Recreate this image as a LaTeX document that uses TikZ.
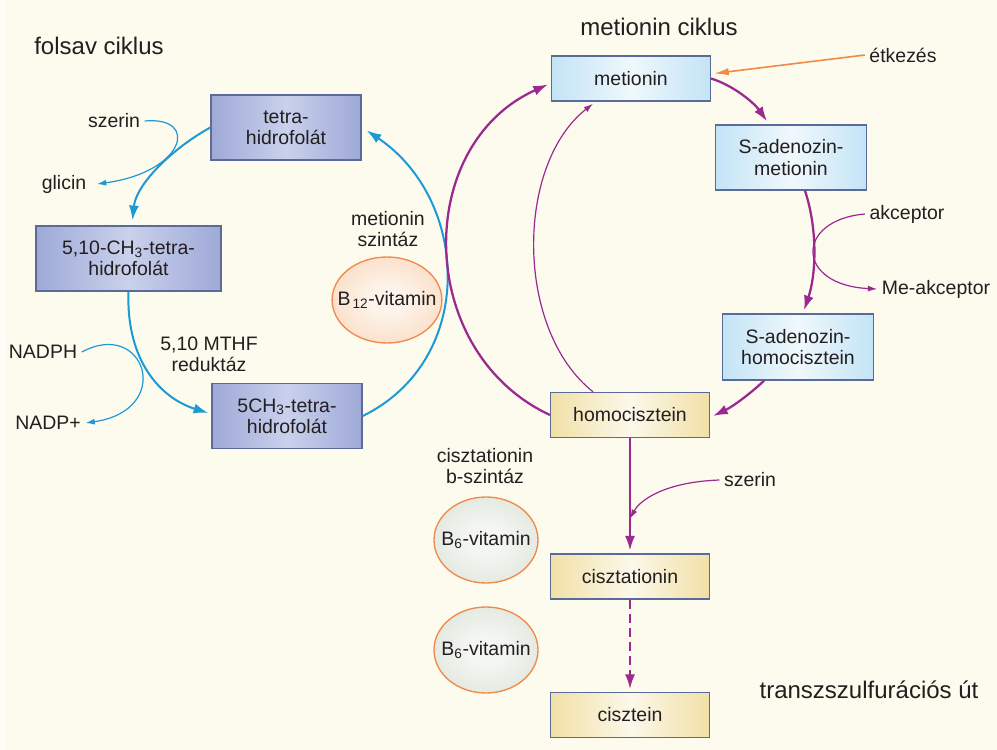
\documentclass[tikz,border=0pt]{standalone}
\usepackage{fontspec}
\setmainfont{Liberation Sans}
\usetikzlibrary{arrows.meta,shapes.geometric,calc}

\definecolor{bg}{HTML}{FDFAEE}
\definecolor{ink}{HTML}{231F20}
\definecolor{frame}{HTML}{5B6B99}
\definecolor{folblue}{HTML}{1C9AD6}
\definecolor{metpurple}{HTML}{9A2A8F}
\definecolor{foodorange}{HTML}{F08A45}
\definecolor{vitrim}{HTML}{F08A4A}
\definecolor{folA}{HTML}{9EA9D7}
\definecolor{folB}{HTML}{CAD1EC}
\definecolor{metA}{HTML}{C3E4F6}
\definecolor{metB}{HTML}{F0F8FC}
\definecolor{cysA}{HTML}{F1E0A6}
\definecolor{cysB}{HTML}{FCF8EA}
\definecolor{btwelveA}{HTML}{FDF3EA}
\definecolor{btwelveB}{HTML}{F7C8A0}
\definecolor{bsixA}{HTML}{F4F6F2}
\definecolor{bsixB}{HTML}{CDD9CA}

% soft radial fills for the vitamin ellipses (rim reached at 50bp)
\pgfdeclareradialshading{btwelveshade}{\pgfpointorigin}{%
  color(0bp)=(btwelveA); color(8bp)=(btwelveA); color(50bp)=(btwelveB)}
\pgfdeclareradialshading{bsixshade}{\pgfpointorigin}{%
  color(0bp)=(bsixA); color(8bp)=(bsixA); color(50bp)=(bsixB)}

\tikzset{
  every node/.style={text=ink, font=\fontsize{14.6}{16}\selectfont},
  header/.style={font=\fontsize{18}{21.6}\selectfont},
  box/.style={draw=frame, line width=1.1pt, align=center, inner sep=0pt},
  folbox/.style={box, left color=folA, right color=folA, middle color=folB,
    minimum height=48.75pt},
  metbox/.style={box, left color=metA, right color=metA, middle color=metB},
  cysbox/.style={box, left color=cysA, right color=cysA, middle color=cysB,
    minimum width=119pt, minimum height=33.75pt},
  vit/.style={ellipse, draw=vitrim, line width=1pt, inner xsep=-8pt, inner ysep=0pt,
    minimum width=78pt, minimum height=64.5pt},
  bigtip/.style={-{Latex[length=11pt,width=7.5pt]}},
  smalltip/.style={-{Latex[length=7pt,width=4.5pt]}},
  bluethick/.style={draw=folblue, line width=1.5pt, bigtip},
  bluethin/.style={draw=folblue, line width=0.9pt, smalltip},
  purplethick/.style={draw=metpurple, line width=1.7pt, bigtip},
  purplethin/.style={draw=metpurple, line width=0.9pt, smalltip},
  foodarrow/.style={draw=foodorange, line width=1.2pt,
    -{Latex[length=11pt,width=5.5pt]}},
}

\begin{document}
\begin{tikzpicture}[x=0.75pt,y=-0.75pt]
  \useasboundingbox (0,0) rectangle (997,750);
  \fill[bg] (0,0) rectangle (997,750);
  \fill[white!55!bg] (0,0) rectangle (5,750);

  % headings
  \node[header] (folsav) at (99,46) {folsav ciklus};
  \node[header] (metcyc) at (659,27) {metionin ciklus};
  \node[header] (transz) at (869,690) {transzszulfurációs út};

  % folate cycle
  \node[folbox, minimum width=112.5pt] (thf) at (286,127.5) {tetra-\\hidrofolát};
  \node[folbox, minimum width=138.75pt] (mthf) at (128.5,258.5) {5,10-CH\textsubscript{3}-tetra-\\hidrofolát};
  \node[folbox, minimum width=112.5pt] (ch3thf) at (287,416) {5CH\textsubscript{3}-tetra-\\hidrofolát};

  % methionine cycle
  \node[metbox, minimum width=119pt, minimum height=33.75pt] (met) at (631,78.5) {metionin};
  \node[metbox, minimum width=113.25pt, minimum height=48.75pt] (sam) at (791,157.5) {S-adenozin-\\metionin};
  \node[metbox, minimum width=113.25pt, minimum height=49.5pt] (sah) at (798,347) {S-adenozin-\\homocisztein};

  % transsulfuration
  \node[cysbox] (hcy) at (630,415) {homocisztein};
  \node[cysbox] (cth) at (630,576.5) {cisztationin};
  \node[cysbox] (cys) at (630,715) {cisztein};

  % cofactors
  \node[vit, shading=btwelveshade, minimum width=80pt] (b12) at (387,300) {B\kern1.5pt\textsubscript{12}-vitamin};
  \node[vit, shading=bsixshade] (b6a) at (486,540) {B\textsubscript{6}-vitamin};
  \node[vit, shading=bsixshade] (b6b) at (486,650) {B\textsubscript{6}-vitamin};

  % side labels
  \node (food) at (903,55) {étkezés};
  \node (serA) at (114,121) {szerin};
  \node (gly) at (64,184) {glicin};
  \node (nadph) at (43,352) {NADPH};
  \node (nadp) at (48,423) {NADP+};
  \node[align=center] (ms) at (388,229) {metionin\\szintáz};
  \node[align=center] (mthfr) at (209,354) {5,10 MTHF\\reduktáz};
  \node (acc) at (907,214) {akceptor};
  \node (meacc) at (936,289) {Me-akceptor};
  \node[align=center] (cbs) at (485,466) {cisztationin\\b-szintáz};
  \node (serB) at (750,480) {szerin};

  % folate cycle arrows
  \draw[bluethick] (thf.west) .. controls (170,150) and (136,185) .. ($(mthf.north)+(4,-5)$);
  \draw[bluethin] (serA.east) .. controls (200,116) and (185,172) .. ($(gly.east)+(6,0)$);
  \draw[bluethick] (mthf.south) .. controls (126,360) and (160,398) .. ($(ch3thf.west)+(-3,-3)$);
  \draw[bluethin] (nadph.east) .. controls (145,318) and (175,410) .. (nadp.east);
  \draw[bluethick] (ch3thf.east) .. controls (477,360) and (470,200) .. ($(thf.east)+(5,3)$);

  % methionine cycle arrows
  \draw[purplethick] (hcy.west) .. controls (415,352) and (413,145) .. ($(met.west)+(-3,6)$);
  \draw[purplethin] ($(hcy.north)+(-37,0)$) .. controls (515,330) and (515,165) .. ($(met.south)+(-38,2)$);
  \draw[purplethick] (met.east) .. controls (735,86) and (755,104) .. ($(sam.north)+(-24,-3)$);
  \draw[purplethick] ($(sam.south)+(14,0)$) .. controls (818,230) and (816,275) .. ($(sah.north)+(6,-3)$);
  \draw[purplethin] (acc.west) .. controls (795,220) and (795,285) .. (meacc.west);
  \draw[purplethick] ($(sah.south)+(-34,0)$) .. controls (750,394) and (732,407) .. ($(hcy.east)+(3,1)$);
  \draw[foodarrow] (food.west) -- ($(met.east)+(3,-5)$);

  % transsulfuration arrows
  \draw[purplethick, shorten >=2pt] (hcy.south) -- (cth.north);
  \coordinate (serjoin) at ($(hcy.south)!0.7!(cth.north)$);
  \draw[purplethin] (serB.west) .. controls (665,482) and (640,500) .. (serjoin);
  \draw[purplethick, dash pattern=on 7pt off 3.5pt, shorten >=2pt] (cth.south) -- (cys.north);
\end{tikzpicture}
\end{document}
